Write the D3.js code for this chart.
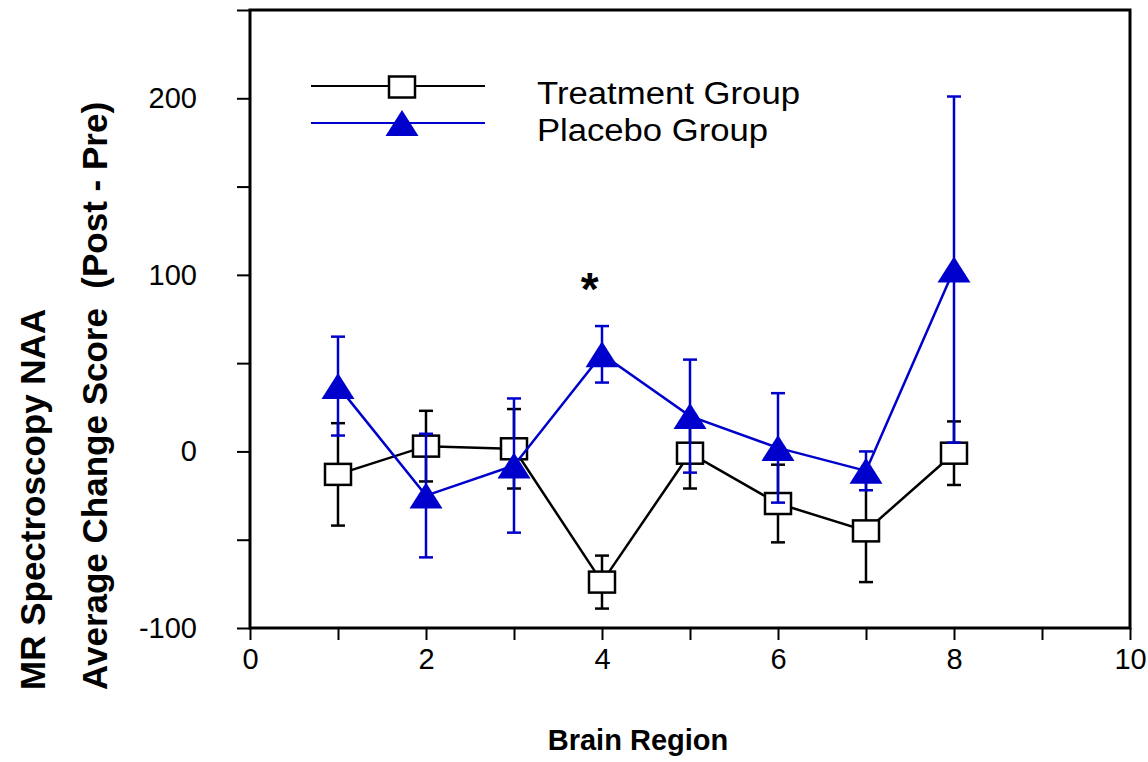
<!DOCTYPE html>
<html>
<head>
<meta charset="utf-8">
<script src="https://cdn.jsdelivr.net/npm/d3@7"></script>
<style>
  body { margin: 0; background: #fff; }
  text { font-family: "Liberation Sans", Arial, sans-serif; }
</style>
</head>
<body>
<div id="chart"></div>
<script>
// Brain regions and change scores
const regions = [1, 2, 3, 4, 5, 6, 7, 8];
const treatmentMean = [-13, 3, 1.5, -74, -1, -29.5, -45, -1];
const treatmentErr = [29, 20, 22.5, 15, 20, 22, 29, 18];
const placeboMean = [37, -25, -8, 55, 20, 2, -11, 103];
const placeboErr = [28, 35, 38, 16, 32, 31, 11, 98];
const xTicks = [0, 1, 2, 3, 4, 5, 6, 7, 8, 9, 10];
const yTicks = [-100, -50, 0, 50, 100, 150, 200, 250];
const seriesNames = ["Treatment Group", "Placebo Group"];

const W = 1148, H = 762;
const BLUE = "#0000cc";

const svg = d3.select("#chart").append("svg")
  .attr("width", W).attr("height", H);

const x = d3.scaleLinear().domain([0, 10]).range([250, 1130]);
const y = d3.scaleLinear().domain([-100, 250]).range([628, 10]);

// Axes
svg.append("g")
  .attr("transform", "translate(0," + y(-100) + ")")
  .call(d3.axisBottom(x).tickValues(xTicks).tickSize(12).tickPadding(8)
    .tickFormat((d) => (d % 2 === 0 ? d : "")))
  .call((g) => {
    g.select(".domain").remove();
    g.selectAll("line").attr("stroke-width", 2);
    g.selectAll("text").style("font-size", "29px").attr("fill", "#000");
  });

svg.append("g")
  .attr("transform", "translate(" + x(0) + ",0)")
  .call(d3.axisLeft(y).tickValues(yTicks).tickSize(13).tickPadding(40)
    .tickFormat((d) => (d % 100 === 0 ? d : "")))
  .call((g) => {
    g.select(".domain").remove();
    g.selectAll("line").attr("stroke-width", 2);
    g.selectAll("text").style("font-size", "29px").attr("fill", "#000");
  });

// Frame
svg.append("rect")
  .attr("x", x(0)).attr("y", y(250))
  .attr("width", x(10) - x(0)).attr("height", y(-100) - y(250))
  .attr("fill", "none").attr("stroke", "#000").attr("stroke-width", 3);

// Axis titles
svg.append("text")
  .attr("x", (x(0) + x(10)) / 2 - 52).attr("y", 750)
  .attr("text-anchor", "middle")
  .style("font-size", "29px").style("font-weight", "bold")
  .text("Brain Region");

svg.append("text")
  .attr("transform", "translate(45,690) rotate(-90)")
  .style("font-size", "35px").style("font-weight", "bold")
  .text("MR Spectroscopy NAA");

svg.append("text")
  .attr("transform", "translate(107,690) rotate(-90)")
  .style("font-size", "35px").style("font-weight", "bold")
  .style("white-space", "pre")
  .text("Average Change Score  (Post - Pre)");

const line = d3.line().x((d) => x(d[0])).y((d) => y(d[1]));

function drawErrors(means, errs, color) {
  const g = svg.append("g").attr("stroke", color).attr("stroke-width", 2.5);
  regions.forEach((r, i) => {
    const top = y(means[i] + errs[i]), bot = y(means[i] - errs[i]);
    g.append("line").attr("x1", x(r)).attr("x2", x(r)).attr("y1", top).attr("y2", bot);
    g.append("line").attr("x1", x(r) - 7).attr("x2", x(r) + 7).attr("y1", top).attr("y2", top);
    g.append("line").attr("x1", x(r) - 7).attr("x2", x(r) + 7).attr("y1", bot).attr("y2", bot);
  });
}

function square(g, cx, cy) {
  g.append("rect")
    .attr("x", cx - 13).attr("y", cy - 10.5)
    .attr("width", 26).attr("height", 21)
    .attr("fill", "#fff").attr("stroke", "#000").attr("stroke-width", 2.5);
}

function triangle(g, cx, cy) {
  g.append("path")
    .attr("d", "M" + cx + "," + (cy - 13) + "L" + (cx + 16.5) + "," + (cy + 13) +
      "L" + (cx - 16.5) + "," + (cy + 13) + "Z")
    .attr("fill", BLUE);
}

// Treatment group
svg.append("path")
  .datum(regions.map((r, i) => [r, treatmentMean[i]]))
  .attr("d", line).attr("fill", "none").attr("stroke", "#000").attr("stroke-width", 2.5);
drawErrors(treatmentMean, treatmentErr, "#000");
const tg = svg.append("g");
regions.forEach((r, i) => square(tg, x(r), y(treatmentMean[i])));

// Placebo group
svg.append("path")
  .datum(regions.map((r, i) => [r, placeboMean[i]]))
  .attr("d", line).attr("fill", "none").attr("stroke", BLUE).attr("stroke-width", 2.5);
drawErrors(placeboMean, placeboErr, BLUE);
const pg = svg.append("g");
regions.forEach((r, i) => triangle(pg, x(r), y(placeboMean[i])));

// Significance marker
svg.append("text")
  .attr("x", x(3.86)).attr("y", y(100) + 30)
  .attr("text-anchor", "middle")
  .style("font-size", "46px").style("font-weight", "bold")
  .text("*");

// Legend
const legend = svg.append("g");
const legendWidths = [263, 231];
[86, 123].forEach((ly, i) => {
  legend.append("line")
    .attr("x1", 311).attr("x2", 485).attr("y1", ly).attr("y2", ly)
    .attr("stroke", i === 0 ? "#000" : BLUE).attr("stroke-width", 2);
  if (i === 0) square(legend, 402, ly + 1);
  else triangle(legend, 402, ly);
  legend.append("text")
    .attr("x", 537).attr("y", ly + 18)
    .attr("textLength", legendWidths[i])
    .attr("lengthAdjust", "spacingAndGlyphs")
    .style("font-size", "31px")
    .text(seriesNames[i]);
});
</script>
</body>
</html>
